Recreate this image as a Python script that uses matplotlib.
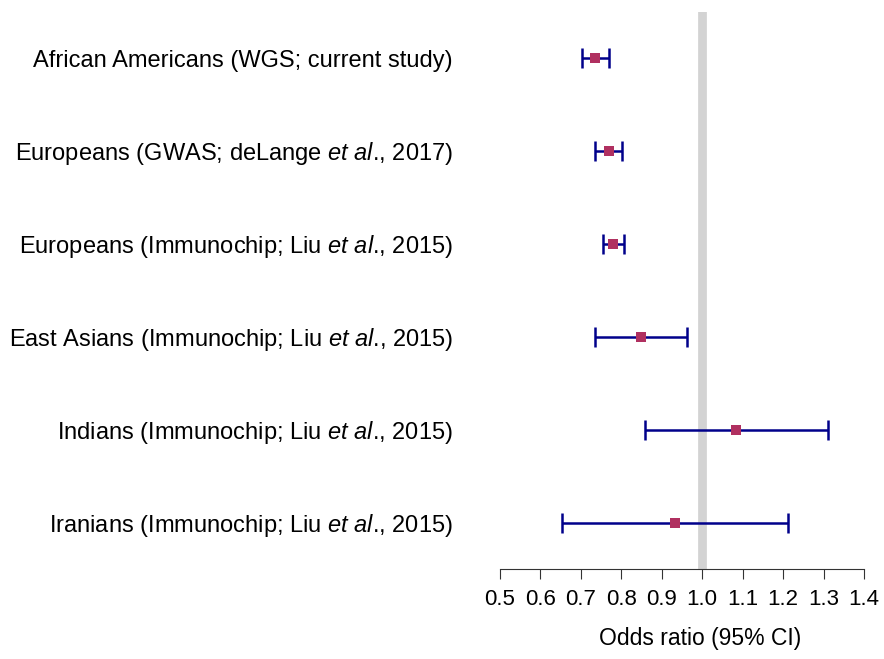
import matplotlib
matplotlib.use("Agg")
import matplotlib.pyplot as plt
import matplotlib.transforms as mtransforms


# Data

STUDIES = [
    "African Americans (WGS; current study)",
    "Europeans (GWAS; deLange $\\it{et}$ $\\it{al}$., 2017)",
    "Europeans (Immunochip; Liu $\\it{et}$ $\\it{al}$., 2015)",
    "East Asians (Immunochip; Liu $\\it{et}$ $\\it{al}$., 2015)",
    "Indians (Immunochip; Liu $\\it{et}$ $\\it{al}$., 2015)",
    "Iranians (Immunochip; Liu $\\it{et}$ $\\it{al}$., 2015)",
]
ODDS_RATIO = [0.736, 0.770, 0.780, 0.848, 1.085, 0.934]
CI_LOW = [0.703, 0.736, 0.754, 0.735, 0.859, 0.654]
CI_HIGH = [0.769, 0.803, 0.806, 0.963, 1.310, 1.212]
X_TICKS = [0.5, 0.6, 0.7, 0.8, 0.9, 1.0, 1.1, 1.2, 1.3, 1.4]


# Style

plt.rcParams["font.family"] = ["Liberation Sans", "DejaVu Sans"]
plt.rcParams["mathtext.fontset"] = "custom"
plt.rcParams["mathtext.rm"] = "Liberation Sans"
plt.rcParams["mathtext.it"] = "Liberation Sans:italic"

W, H = 884, 659
fig = plt.figure(figsize=(W / 100, H / 100), dpi=100)
ax = fig.add_axes([499.7 / W, 1 - 569 / H, 364.3 / W, 557 / H])

rows = list(range(len(STUDIES)))

# null line
ax.axvline(1.0, color="lightgray", linewidth=6.3, zorder=0)

err_lo = [o - l for o, l in zip(ODDS_RATIO, CI_LOW)]
err_hi = [h - o for o, h in zip(ODDS_RATIO, CI_HIGH)]
ax.errorbar(ODDS_RATIO, rows, xerr=[err_lo, err_hi], fmt="none",
            ecolor="#00008B", elinewidth=1.8, capsize=7.2, capthick=1.8, zorder=2)
ax.plot(ODDS_RATIO, rows, linestyle="none", marker="s", markersize=6.5,
        color="#B03060", markeredgewidth=0, zorder=3)

# study labels to the left of the axis, baseline a little below each row
trans = mtransforms.blended_transform_factory(ax.transAxes, ax.transData)
for r, label in zip(rows, STUDIES):
    ax.text((453 - 499.7) / 364.3, r + 0.094, label, transform=trans,
            ha="right", va="baseline", fontsize=17)

ax.set_xlim(0.5, 1.4)
ax.set_ylim(5.497, -0.498)
ax.set_xticks(X_TICKS, labels=[f"{t:.1f}" for t in X_TICKS])
ax.tick_params(axis="x", length=7.2, width=0.8, pad=7, labelsize=16,
               color="#333333")
ax.set_yticks([])
for side in ["top", "right", "left"]:
    ax.spines[side].set_visible(False)
ax.spines["bottom"].set_linewidth(0.8)
ax.spines["bottom"].set_color("#333333")
fig.text(700 / W, 1 - 645 / H, "Odds ratio (95% CI)", ha="center",
         va="baseline", fontsize=16.5)

fig.savefig("out.png", dpi=100)
